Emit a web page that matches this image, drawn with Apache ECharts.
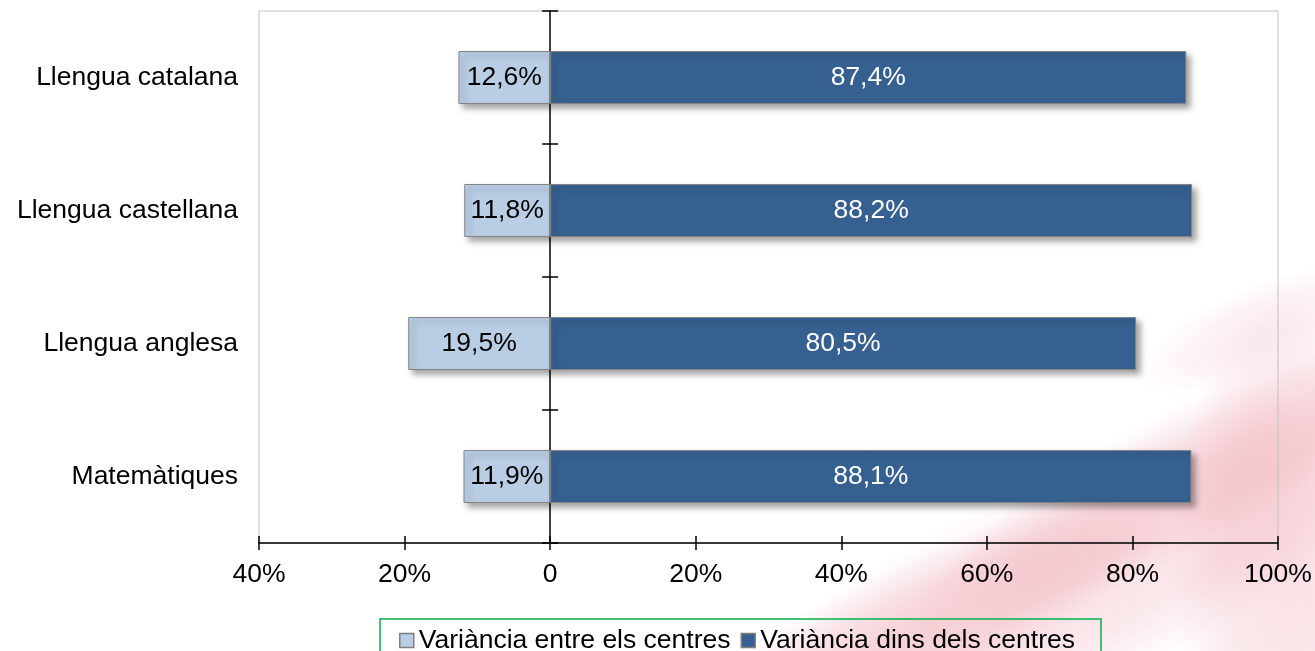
<!DOCTYPE html>
<html>
<head>
<meta charset="utf-8">
<script src="https://cdn.jsdelivr.net/npm/echarts@6/dist/echarts.min.js"></script>
<style>
html,body{margin:0;padding:0;background:#fff;}
#chart{width:1315px;height:651px;}
</style>
</head>
<body>
<div id="chart"></div>
<script>
const categories = ['Llengua catalana', 'Llengua castellana', 'Llengua anglesa', 'Matemàtiques'];
const betweenCentres = [12.6, 11.8, 19.5, 11.9];
const withinCentres = [87.4, 88.2, 80.5, 88.1];
const seriesNames = ['Variància entre els centres', 'Variància dins dels centres'];

const FONT = 'Liberation Sans, Arial, sans-serif';
const FS = 26.5;
const fmtPct = v => Math.abs(v).toFixed(1).replace('.', ',') + '%';

const chart = echarts.init(document.getElementById('chart'), null, {renderer: 'canvas'});

const barShadow = {
  borderColor: '#858585', borderWidth: 1,
  shadowBlur: 6, shadowOffsetX: 4, shadowOffsetY: 4, shadowColor: 'rgba(0,0,0,0.35)'
};

// soft background watermark blobs (decorative)
function blob(x, y, rx, ry, rot, alpha) {
  return {
    type: 'circle', z: -10, silent: true, x: x, y: y, rotation: rot,
    scaleX: rx / 100, scaleY: ry / 100,
    shape: {cx: 0, cy: 0, r: 100},
    style: {fill: {type: 'radial', x: 0.5, y: 0.5, r: 0.5, colorStops: [
      {offset: 0, color: 'rgba(225,100,120,' + alpha + ')'},
      {offset: 0.55, color: 'rgba(225,100,120,' + (alpha * 0.7) + ')'},
      {offset: 1, color: 'rgba(225,100,120,0)'}
    ]}}
  };
}

const option = {
  backgroundColor: '#ffffff',
  animation: false,
  graphic: [
    blob(1060, 590, 430, 110, 0.45, 0.2),
    blob(1200, 470, 330, 70, 0.5, 0.17),
    blob(900, 640, 300, 70, 0.45, 0.16),
    blob(1290, 560, 120, 260, 0, 0.2),
    blob(1260, 330, 130, 45, 0.4, 0.12)
  ],
  grid: {
    left: 259, right: 37, top: 11, bottom: 108,
    show: true, borderColor: '#c0c0c0', borderWidth: 1, backgroundColor: 'transparent'
  },
  legend: {
    data: seriesNames,
    left: 380, top: 619,
    padding: [8, 26, 10, 19],
    icon: 'rect',
    itemWidth: 14, itemHeight: 14, itemGap: 10,
    borderColor: '#00b050', borderWidth: 1.5,
    textStyle: {fontFamily: FONT, fontSize: FS, color: '#000'},
    itemStyle: {borderColor: '#7f7f7f', borderWidth: 1.5}
  },
  xAxis: [
    {
      type: 'value', min: -40, max: 100, interval: 20, position: 'bottom',
      axisLine: {show: true, onZero: false, lineStyle: {color: '#000', width: 1.5}},
      axisTick: {show: true, inside: false, length: 7, lineStyle: {color: '#000', width: 1.5}},
      splitLine: {show: false},
      axisLabel: {
        margin: 18, fontFamily: FONT, fontSize: FS, color: '#000',
        formatter: v => (v === 0 ? '0' : Math.abs(v) + '%')
      }
    },
    {
      type: 'value', min: -40, max: 100, interval: 20, position: 'bottom',
      axisLine: {show: false, onZero: false},
      axisTick: {show: true, inside: true, length: 7, lineStyle: {color: '#000', width: 1.5}},
      splitLine: {show: false},
      axisLabel: {show: false}
    }
  ],
  yAxis: [
    {
      type: 'category', data: categories, inverse: true, position: 'left',
      axisLine: {show: false, onZero: false},
      axisTick: {show: false},
      axisLabel: {margin: 21, fontFamily: FONT, fontSize: FS, color: '#000'}
    },
    {
      type: 'category', data: categories, inverse: true, position: 'left',
      axisLine: {show: true, onZero: true, onZeroAxisIndex: 0, lineStyle: {color: '#000', width: 1.5}},
      axisTick: {show: true, inside: false, length: 8, lineStyle: {color: '#000', width: 1.5}},
      axisLabel: {show: false}
    },
    {
      type: 'category', data: categories, inverse: true, position: 'left',
      axisLine: {show: false, onZero: true, onZeroAxisIndex: 0},
      axisTick: {show: true, inside: true, length: 8, lineStyle: {color: '#000', width: 1.5}},
      axisLabel: {show: false}
    }
  ],
  series: [
    {
      name: seriesNames[0], type: 'bar', stack: 'total', xAxisIndex: 0, yAxisIndex: 0,
      data: betweenCentres.map(v => -v),
      barWidth: 53,
      itemStyle: Object.assign({color: '#b9cde5'}, barShadow),
      label: {show: true, position: 'inside', fontFamily: FONT, fontSize: FS, color: '#000',
              formatter: p => fmtPct(p.value)}
    },
    {
      name: seriesNames[1], type: 'bar', stack: 'total', xAxisIndex: 0, yAxisIndex: 0,
      data: withinCentres,
      barWidth: 53,
      itemStyle: Object.assign({color: '#36608f'}, barShadow),
      label: {show: true, position: 'inside', fontFamily: FONT, fontSize: FS, color: '#fff',
              formatter: p => fmtPct(p.value)}
    }
  ]
};
chart.setOption(option);
</script>
</body>
</html>
